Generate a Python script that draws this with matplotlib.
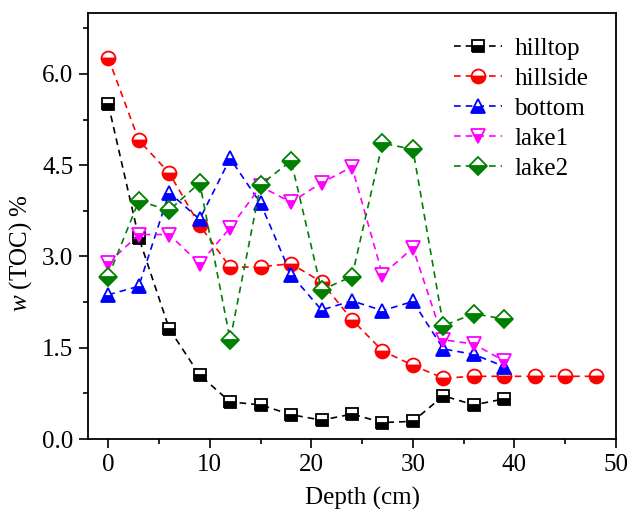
import numpy as np
import matplotlib
matplotlib.use("Agg")
import matplotlib.pyplot as plt
from matplotlib.ticker import MultipleLocator, FormatStrFormatter

plt.rcParams['font.family'] = 'Liberation Serif'
plt.rcParams['mathtext.fontset'] = 'custom'
plt.rcParams['mathtext.it'] = 'Liberation Serif:italic'
plt.rcParams['mathtext.rm'] = 'Liberation Serif'

# depth (cm)
depth = [0, 3, 6, 9, 12, 15, 18, 21, 24, 27, 30, 33, 36, 39]
depth_hillside = [0, 3, 6, 9, 12, 15, 18, 21, 24, 27, 30, 33, 36, 39, 42, 45, 48]

# TOC (%)
hilltop = [5.50, 3.31, 1.81, 1.05, 0.61, 0.56, 0.40, 0.31, 0.41, 0.27, 0.29, 0.71, 0.56, 0.66]
hillside = [6.26, 4.91, 4.37, 3.51, 2.82, 2.83, 2.88, 2.58, 1.96, 1.45, 1.21, 1.00, 1.03, 1.03, 1.03, 1.03, 1.03]
bottom = [2.37, 2.51, 4.05, 3.61, 4.61, 3.87, 2.70, 2.12, 2.27, 2.11, 2.26, 1.48, 1.39, 1.19]
lake1 = [2.89, 3.36, 3.36, 2.88, 3.47, 4.15, 3.89, 4.21, 4.47, 2.70, 3.14, 1.63, 1.56, 1.28]
lake2 = [2.67, 3.91, 3.76, 4.21, 1.63, 4.18, 4.57, 2.45, 2.67, 4.86, 4.76, 1.86, 2.06, 1.97]

fig = plt.figure(figsize=(6.27, 5.09), dpi=100)
ax = fig.add_axes([88/627, 1-439/509, (616-88)/627, (439-13)/509])

series = [
    (depth, hilltop, 'hilltop', 'black', 's', 8.3),
    (depth_hillside, hillside, 'hillside', 'red', 'o', 10),
    (depth, bottom, 'bottom', 'blue', '^', 10),
    (depth, lake1, 'lake1', 'magenta', 'v', 10),
    (depth, lake2, 'lake2', 'green', 'D', 9),
]
for x, y, lab, c, m, ms in series:
    ax.plot(x, y, linestyle=(0, (4, 3)), color=c, lw=1.2, marker=m, ms=ms,
            fillstyle='bottom', markerfacecolor=c, markerfacecoloralt='white',
            markeredgecolor=c, markeredgewidth=1.3, label=lab)

ax.set_xlim(-2, 50)
ax.set_ylim(0, 7.0)
ax.xaxis.set_major_locator(MultipleLocator(10))
ax.xaxis.set_minor_locator(MultipleLocator(5))
ax.yaxis.set_major_locator(MultipleLocator(1.5))
ax.yaxis.set_minor_locator(MultipleLocator(0.75))
ax.yaxis.set_major_formatter(FormatStrFormatter('%.1f'))
ax.tick_params(which='major', direction='out', length=6.5, width=1.2, labelsize=18, pad=4)
ax.tick_params(which='minor', direction='out', length=3.5, width=1.2)
for s in ax.spines.values():
    s.set_linewidth(1.3)

ax.set_xlabel('Depth (cm)', fontsize=18)
ax.xaxis.set_label_coords(0.519, -0.112)
ax.set_ylabel('$w$ (TOC) %', fontsize=18)
ax.yaxis.set_label_coords(-0.102, 0.437)

ax.legend(loc='upper right', bbox_to_anchor=(0.976, 0.978), frameon=False, fontsize=18,
          handlelength=1.9, labelspacing=0.3, handletextpad=0.5, borderaxespad=0.2)

fig.savefig('out.png', dpi=100)
